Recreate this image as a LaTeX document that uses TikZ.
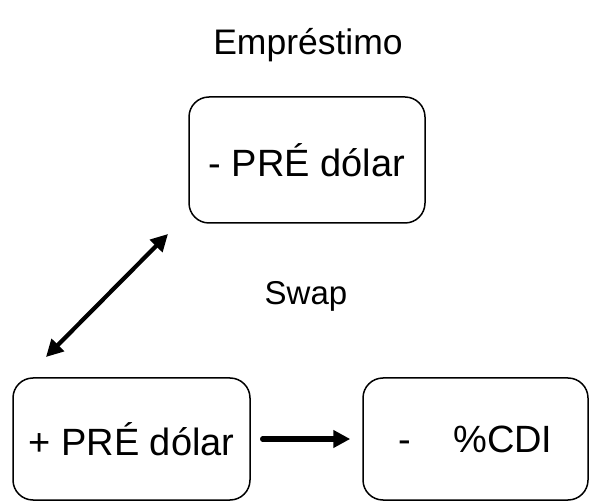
\documentclass[tikz,border=0pt]{standalone}
\usepackage{fontspec}
\setmainfont{Liberation Sans}
\usetikzlibrary{arrows.meta}
\begin{document}
\begin{tikzpicture}[x=1pt,y=-1pt,line join=round,line cap=round,>={Triangle[length=17pt,width=17pt]},
	caixa/.style={draw,line width=1.5pt,rounded corners=20pt,inner sep=0pt,font=\fontsize{38}{40}\selectfont},
	rotulo/.style={inner sep=0pt}]
				\useasboundingbox (0,0) rectangle (589,502);
				% Títulos
				\node[rotulo,font=\fontsize{35.5}{40}\selectfont] (emp) at (308,45) {Empréstimo};
				\node[rotulo,font=\fontsize{33}{40}\selectfont] (swap) at (306,296) {Swap};
				% Caixas das pontas
				\node[caixa,minimum width=236pt,minimum height=126pt] (pre1) at (307,160) {- PRÉ dólar};
				\node[caixa,minimum width=237pt,minimum height=122pt] (pre2) at (131.5,439) {+ PRÉ dólar};
				\node[caixa,minimum width=225pt,minimum height=122pt] (cdi) at (475.5,439) {-\ \ \ \ \%CDI};
				% Setas
				\coordinate (sa) at (46,357);
				\coordinate (sb) at (168,234);
				\draw[<->,line width=4.2pt] (sa)--(sb);
				\draw[->,line width=5.5pt,shorten <=12pt,shorten >=12pt] (pre2.east)--(cdi.west);
			\end{tikzpicture}
\end{document}
